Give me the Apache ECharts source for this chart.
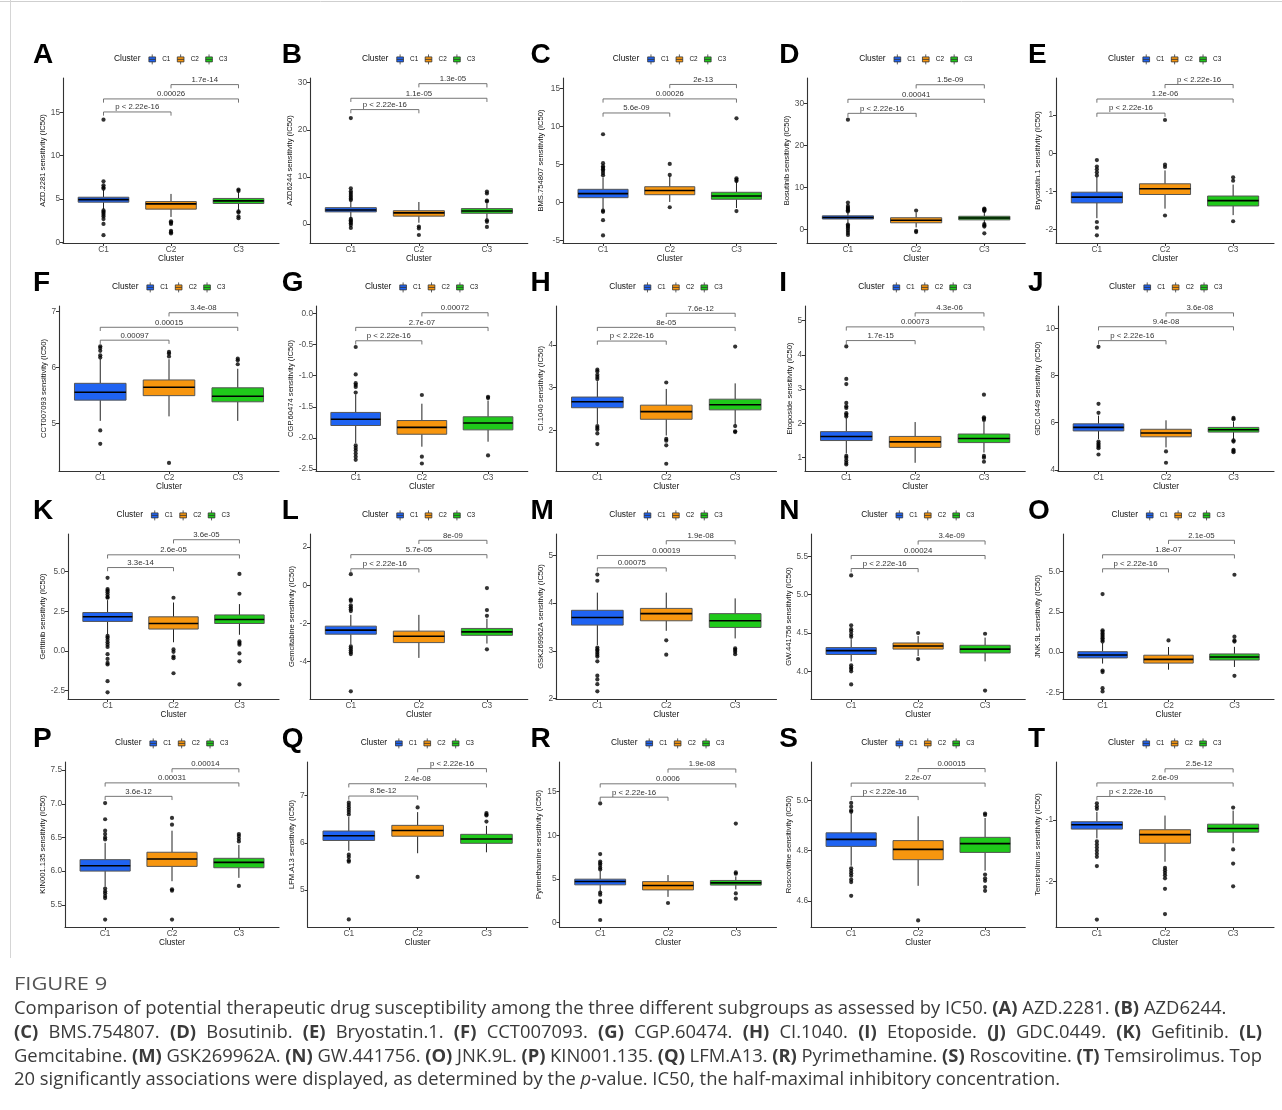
<!DOCTYPE html>
<html><head><meta charset="utf-8">
<script src="https://cdn.jsdelivr.net/npm/echarts@6/dist/echarts.min.js"></script>
<style>html,body{margin:0;padding:0;background:#fff}#c{width:1282px;height:1110px}</style>
</head><body><div id="c"></div>
<script>
// ---------------- data ----------------
const categories = ['C1', 'C2', 'C3'];
const groupColors = ['#1F63F2', '#F7960F', '#1FC91A'];
const letters = ['A','B','C','D','E','F','G','H','I','J','K','L','M','N','O','P','Q','R','S','T'];
const drugs = ['AZD.2281','AZD6244','BMS.754807','Bosutinib','Bryostatin.1','CCT007093','CGP.60474','CI.1040','Etoposide','GDC.0449',
  'Gefitinib','Gemcitabine','GSK269962A','GW.441756','JNK.9L','KIN001.135','LFM.A13','Pyrimethamine','Roscovitine','Temsirolimus'];
const comparisons = [[1, 2], [1, 3], [2, 3]];

// box stats per cluster: [lower whisker, Q1, median, Q3, upper whisker]
const boxA = [[3.85,4.65,4.95,5.22,6.05],[2.95,3.85,4.45,4.72,5.6],[3.7,4.5,4.8,5.08,5.8]];
const outA = [[14.15,7.05,6.6,6.35,6.2,3.7,3.55,3.4,3.2,3.0,2.7,2.15,0.85],[2.45,2.3,2.15,1.35,1.2,1.05],[6.1,5.95,3.6,3.45,3.0,2.8]];
const brkA = [15.04,16.54,18.19]; const pA = ['p < 2.22e-16','0.00026','1.7e-14'];
const tickA = ['0','5','10','15']; const limA = [-0.05,18.95];

const boxB = [[1.3,2.6,3.0,3.5,4.8],[0.3,1.7,2.4,2.85,4.7],[1.0,2.3,2.8,3.3,4.4]];
const outB = [[22.5,7.6,7.0,6.6,6.2,5.8,5.4,5.1,1.1,0.8,0.5,0.2,-0.2,-0.8],[-0.5,-0.9,-2.3],[6.9,6.5,5.0,4.8,0.8,0.5,-0.6]];
const brkB = [24.3,26.7,29.8]; const pB = ['p < 2.22e-16','1.1e-05','1.3e-05'];
const tickB = ['0','10','20','30']; const limB = [-4.0,31.0];

const boxC = [[-0.9,0.66,1.2,1.76,3.3],[0.1,1.05,1.6,2.1,3.5],[-0.7,0.45,0.88,1.37,2.7]];
const outC = [[9.0,5.2,4.8,4.6,4.4,4.2,3.9,3.6,-1.05,-1.2,-2.3,-4.3],[5.1,3.65,-0.6],[11.1,3.2,3.0,2.85,-1.1]];
const brkC = [11.8,13.65,15.55]; const pC = ['5.6e-09','0.00026','2e-13'];
const tickC = ['-5','0','5','10','15']; const limC = [-5.3,16.4];

const boxD = [[1.4,2.5,2.85,3.25,4.1],[0.5,1.6,2.2,2.8,4.0],[1.4,2.3,2.75,3.15,4.2]];
const outD = [[26.1,6.4,5.6,5.2,4.9,4.6,4.3,1.2,0.9,0.6,0.2,-0.3,-0.8,-1.3],[4.5,-0.3,-0.6],[5.0,4.8,4.6,4.4,1.3,1.0,0.7,-0.9]];
const brkD = [27.6,30.95,34.4]; const pD = ['p < 2.22e-16','0.00041','1.5e-09'];
const tickD = ['0','10','20','30']; const limD = [-3.2,36.0];

const boxE = [[-1.7,-1.3,-1.15,-1.02,-0.62],[-1.45,-1.08,-0.93,-0.8,-0.45],[-1.62,-1.38,-1.24,-1.12,-0.82]];
const outE = [[-0.18,-0.35,-0.42,-0.5,-0.58,-1.8,-1.95,-2.15],[0.87,-0.3,-0.36,-1.63],[-0.63,-0.72,-1.78]];
const brkE = [1.05,1.42,1.8]; const pE = ['p < 2.22e-16','1.2e-06','p < 2.22e-16'];
const tickE = ['-2','-1','0','1']; const limE = [-2.35,1.97];

const boxF = [[5.05,5.42,5.56,5.72,6.15],[5.13,5.5,5.65,5.78,6.15],[5.05,5.39,5.49,5.64,5.98]];
const outF = [[6.38,6.35,6.3,6.22,6.18,4.88,4.64],[6.28,6.25,6.2,4.3],[6.16,6.13,6.06]];
const brkF = [6.49,6.72,6.98]; const pF = ['0.00097','0.00015','3.4e-08'];
const tickF = ['5','6','7']; const limF = [4.155,7.10];

const boxG = [[-2.08,-1.8,-1.7,-1.59,-1.3],[-2.14,-1.94,-1.83,-1.72,-1.45],[-2.06,-1.87,-1.76,-1.66,-1.4]];
const outG = [[-0.54,-0.98,-1.12,-1.15,-1.18,-1.27,-2.12,-2.16,-2.2,-2.25,-2.3,-2.35],[-1.31,-2.3,-2.41],[-1.34,-1.36,-2.28]];
const brkG = [-0.44,-0.225,0.01]; const pG = ['p < 2.22e-16','2.7e-07','0.00072'];
const tickG = ['-2.5','-2.0','-1.5','-1.0','-0.5','0.0']; const limG = [-2.53,0.118];

const boxH = [[2.15,2.53,2.67,2.78,3.15],[1.88,2.26,2.44,2.59,2.97],[2.13,2.48,2.6,2.73,3.1]];
const outH = [[3.42,3.38,3.3,3.25,3.2,2.1,2.06,2.02,1.93,1.68],[3.12,1.8,1.76,1.65,1.22],[3.96,2.1,1.98,1.96]];
const brkH = [4.09,4.41,4.74]; const pH = ['p < 2.22e-16','8e-05','7.6e-12'];
const tickH = ['2','3','4']; const limH = [1.05,4.91];

const boxI = [[1.12,1.5,1.62,1.76,2.15],[0.85,1.3,1.46,1.62,2.04],[1.15,1.44,1.56,1.69,2.05]];
const outI = [[4.25,3.3,3.15,2.6,2.5,2.45,2.3,2.25,2.2,1.05,1.0,0.92,0.85,0.8],[],[2.84,2.18,2.14,2.1,1.05,1.0,0.88]];
const brkI = [4.42,4.82,5.23]; const pI = ['1.7e-15','0.00073','4.3e-06'];
const tickI = ['1','2','3','4','5']; const limI = [0.61,5.43];

const boxJ = [[5.3,5.65,5.8,5.95,6.3],[4.95,5.4,5.56,5.72,6.1],[5.3,5.6,5.7,5.8,6.05]];
const outJ = [[9.22,6.8,6.42,5.2,5.12,5.05,4.98,4.92,4.65],[4.78,4.3],[6.2,6.15,5.25,5.2,4.85,4.8,4.75]];
const brkJ = [9.48,10.07,10.66]; const pJ = ['p < 2.22e-16','9.4e-08','3.6e-08'];
const tickJ = ['4','6','8','10']; const limJ = [3.95,10.95];

const boxK = [[1.05,1.86,2.15,2.42,3.2],[0.55,1.38,1.73,2.15,3.05],[1.02,1.73,1.98,2.27,2.95]];
const outK = [[4.6,3.9,3.8,3.7,3.55,3.4,3.35,0.95,0.85,0.7,0.55,0.4,0.25,-0.2,-0.5,-0.75,-0.85,-1.9,-2.6],[3.35,0.1,-0.05,-0.35,-0.45,-1.4],[4.85,3.6,0.6,0.5,0.4,-0.15,-0.65,-2.1]];
const brkK = [5.25,6.05,7.0]; const pK = ['3.3e-14','2.6e-05','3.6e-05'];
const tickK = ['-2.5','0.0','2.5','5.0']; const limK = [-3.02,7.36];

const boxL = [[-3.1,-2.56,-2.35,-2.14,-1.55],[-3.8,-3.0,-2.67,-2.4,-1.55],[-3.05,-2.62,-2.44,-2.26,-1.75]];
const outL = [[0.58,-0.75,-0.82,-1.05,-1.15,-1.25,-1.35,-3.2,-3.3,-3.4,-3.5,-3.6,-5.55],[],[-0.15,-1.3,-1.6,-3.35]];
const brkL = [0.86,1.6,2.35]; const pL = ['p < 2.22e-16','5.7e-05','8e-09'];
const tickL = ['-4','-2','0','2']; const limL = [-5.95,2.68];

const boxM = [[3.12,3.54,3.7,3.85,4.22],[3.42,3.63,3.78,3.89,4.22],[3.26,3.49,3.63,3.78,4.1]];
const outM = [[4.6,4.47,3.07,3.03,3.0,2.96,2.92,2.88,2.78,2.48,2.4,2.3,2.15],[3.22,2.92],[3.05,3.02,2.98,2.93]];
const brkM = [4.74,5.0,5.31]; const pM = ['0.00075','0.00019','1.9e-08'];
const tickM = ['2','3','4','5']; const limM = [1.99,5.45];

const boxN = [[4.13,4.22,4.27,4.31,4.42],[4.2,4.29,4.33,4.37,4.46],[4.13,4.24,4.29,4.34,4.44]];
const outN = [[5.25,4.6,4.55,4.52,4.48,4.45,4.08,4.05,4.03,4.0,3.83],[4.5,4.16],[4.49,3.75]];
const brkN = [5.34,5.51,5.7]; const pN = ['p < 2.22e-16','0.00024','3.4e-09'];
const tickN = ['4.0','4.5','5.0','5.5']; const limN = [3.64,5.79];

const boxO = [[-0.72,-0.37,-0.19,0.02,0.55],[-1.1,-0.69,-0.46,-0.2,0.31],[-0.93,-0.5,-0.31,-0.12,0.32]];
const outO = [[3.6,1.35,1.25,1.15,1.05,0.95,0.85,0.75,0.65,-1.15,-1.25,-2.25,-2.45],[0.72],[4.8,0.95,0.72,0.65,-1.48]];
const brkO = [5.17,6.04,6.94]; const pO = ['p < 2.22e-16','1.8e-07','2.1e-05'];
const tickO = ['-2.5','0.0','2.5','5.0']; const limO = [-2.92,7.33];

const boxP = [[5.77,6.0,6.08,6.17,6.42],[5.85,6.07,6.18,6.28,6.6],[5.9,6.05,6.13,6.19,6.39]];
const outP = [[7.01,6.77,6.6,6.55,6.5,6.47,5.74,5.7,5.67,5.63,5.6,5.28],[6.79,6.69,5.73,5.71,5.28],[6.55,6.52,6.48,6.44,5.78]];
const brkP = [7.11,7.31,7.52]; const pP = ['3.6e-12','0.00031','0.00014'];
const tickP = ['5.5','6.0','6.5','7.0','7.5']; const limP = [5.17,7.62];

const boxQ = [[5.83,6.05,6.15,6.25,6.55],[5.78,6.14,6.26,6.37,6.65],[5.8,5.99,6.08,6.18,6.36]];
const outQ = [[6.85,6.8,6.75,6.7,6.65,6.6,5.75,5.7,5.63,5.6,4.38],[6.75,5.28],[6.63,6.6,6.58,6.45]];
const brkQ = [6.99,7.25,7.57]; const pQ = ['8.5e-12','2.4e-08','p < 2.22e-16'];
const tickQ = ['5','6','7']; const limQ = [4.22,7.71];

const boxR = [[3.55,4.33,4.72,4.98,5.9],[2.95,3.75,4.25,4.7,5.45],[3.8,4.3,4.55,4.83,5.3]];
const outR = [[13.65,7.85,7.0,6.8,6.6,6.3,6.1,3.45,3.2,2.5,2.35,0.3],[2.25],[11.35,5.75,5.6,3.35,2.75]];
const brkR = [14.37,15.9,17.6]; const pR = ['p < 2.22e-16','0.0006','1.9e-08'];
const tickR = ['0','5','10','15']; const limR = [-0.5,18.4];

const boxS = [[4.74,4.817,4.845,4.871,4.95],[4.66,4.764,4.805,4.84,4.937],[4.72,4.793,4.828,4.853,4.93]];
const outS = [[4.99,4.975,4.96,4.955,4.73,4.72,4.71,4.7,4.685,4.675,4.62],[4.522],[4.948,4.942,4.705,4.69,4.68,4.655,4.64]];
const brkS = [5.016,5.069,5.127]; const pS = ['p < 2.22e-16','2.2e-07','0.00015'];
const tickS = ['4.6','4.8','5.0']; const limS = [4.496,5.153];

const boxT = [[-1.3,-1.15,-1.08,-1.03,-0.87],[-1.68,-1.38,-1.24,-1.16,-0.93],[-1.38,-1.2,-1.14,-1.07,-0.85]];
const outT = [[-0.73,-0.78,-0.82,-1.35,-1.4,-1.45,-1.5,-1.55,-1.6,-1.75,-2.62],[-1.78,-1.82,-1.86,-1.9,-1.95,-2.12,-2.53],[-0.8,-1.48,-1.71,-2.08]];
const brkT = [-0.62,-0.40,-0.17]; const pT = ['p < 2.22e-16','2.6e-09','2.5e-12'];
const tickT = ['-2','-1']; const limT = [-2.74,-0.06];

const captionTitle = 'FIGURE 9';
const captionLines = [
  'Comparison of potential therapeutic drug susceptibility among the three different subgroups as assessed by IC50. {b|(A)} AZD.2281. {b|(B)} AZD6244.',
  '{b|(C)} BMS.754807. {b|(D)} Bosutinib. {b|(E)} Bryostatin.1. {b|(F)} CCT007093. {b|(G)} CGP.60474. {b|(H)} CI.1040. {b|(I)} Etoposide. {b|(J)} GDC.0449. {b|(K)} Gefitinib. {b|(L)}',
  'Gemcitabine. {b|(M)} GSK269962A. {b|(N)} GW.441756. {b|(O)} JNK.9L. {b|(P)} KIN001.135. {b|(Q)} LFM.A13. {b|(R)} Pyrimethamine. {b|(S)} Roscovitine. {b|(T)} Temsirolimus. Top',
  '20 significantly associations were displayed, as determined by the {i|p}-value. IC50, the half-maximal inhibitory concentration.'
];

// ---------------- layout (pixels) ----------------
const gridLeft = [63,310,563,807,1056, 59,316,556,805,1058, 68,310,556,811,1063, 65,307.5,559.5,811,1056];
const COLW = 248.75, ROWH = 228;
const FONT = 'Liberation Sans, Arial, sans-serif';
const CAPFONT = 'Open Sans';
const CAPSIZE = 18.4;
const CAPCOLOR = '#3a3a3a';
const capJustify = [null, 1262, 1262, null];

const BOX = [boxA,boxB,boxC,boxD,boxE,boxF,boxG,boxH,boxI,boxJ,boxK,boxL,boxM,boxN,boxO,boxP,boxQ,boxR,boxS,boxT];
const OUT = [outA,outB,outC,outD,outE,outF,outG,outH,outI,outJ,outK,outL,outM,outN,outO,outP,outQ,outR,outS,outT];
const BRK = [brkA,brkB,brkC,brkD,brkE,brkF,brkG,brkH,brkI,brkJ,brkK,brkL,brkM,brkN,brkO,brkP,brkQ,brkR,brkS,brkT];
const PV = [pA,pB,pC,pD,pE,pF,pG,pH,pI,pJ,pK,pL,pM,pN,pO,pP,pQ,pR,pS,pT];
const TICK = [tickA,tickB,tickC,tickD,tickE,tickF,tickG,tickH,tickI,tickJ,tickK,tickL,tickM,tickN,tickO,tickP,tickQ,tickR,tickS,tickT];
const LIM = [limA,limB,limC,limD,limE,limF,limG,limH,limI,limJ,limK,limL,limM,limN,limO,limP,limQ,limR,limS,limT];

function renderBox(params, api) {
  const x = api.value(0);
  const lo = api.coord([x, api.value(1)]);
  const q1 = api.coord([x, api.value(2)]);
  const md = api.coord([x, api.value(3)]);
  const q3 = api.coord([x, api.value(4)]);
  const hi = api.coord([x, api.value(5)]);
  const w = api.size([0.75, 0])[0];
  const cx = md[0], x0 = cx - w / 2;
  return { type: 'group', children: [
    { type: 'line', shape: { x1: cx, y1: lo[1], x2: cx, y2: q1[1] }, style: { stroke: '#222', lineWidth: 1 } },
    { type: 'line', shape: { x1: cx, y1: q3[1], x2: cx, y2: hi[1] }, style: { stroke: '#222', lineWidth: 1 } },
    { type: 'rect', shape: { x: x0, y: q3[1], width: w, height: q1[1] - q3[1] }, style: { fill: api.visual('color'), stroke: '#555', lineWidth: 1 } },
    { type: 'line', shape: { x1: x0, y1: md[1], x2: x0 + w, y2: md[1] }, style: { stroke: '#000', lineWidth: 1.6 } }
  ]};
}
function makeBracket(labels) {
  return function (params, api) {
    const a = api.coord([api.value(0), api.value(2)]);
    const b = api.coord([api.value(1), api.value(2)]);
    const tip = 3.7;
    return { type: 'group', children: [
      { type: 'polyline', shape: { points: [[a[0], a[1] + tip], [a[0], a[1]], [b[0], b[1]], [b[0], b[1] + tip]] },
        style: { stroke: '#666', lineWidth: 0.9, fill: null } },
      { type: 'text', x: (a[0] + b[0]) / 2, y: a[1] - 0.8,
        style: { text: labels[params.dataIndex], fontSize: 7.8, fontFamily: FONT, fill: '#333',
                 align: 'center', textAlign: 'center', verticalAlign: 'bottom', textVerticalAlign: 'bottom' } }
    ]};
  };
}
const boxIcon = 'path://M1,3H9V9H1Z M1,6H9 M5,0V3 M5,9V12';

const option = {
  animation: false,
  backgroundColor: '#fff',
  textStyle: { fontFamily: FONT },
  grid: [], xAxis: [], yAxis: [], series: [], legend: [], graphic: []
};

letters.forEach((L, i) => {
  const r = Math.floor(i / 5), c = i % 5;
  const left = gridLeft[i], right = 279 + COLW * c, top = 78 + ROWH * r, bottom = 243 + ROWH * r;
  const cxPlot = (left + right) / 2;
  const titleX = 43.5 + COLW * c;
  option.grid.push({ left: left, top: top, width: right - left, height: bottom - top });
  option.xAxis.push({
    gridIndex: i, type: 'value', min: 0.4, max: 3.6,
    axisLine: { show: true, onZero: false, lineStyle: { color: '#333', width: 1.1 } },
    axisTick: { show: true, length: 3, customValues: [1, 2, 3], lineStyle: { color: '#333', width: 1 } },
    axisLabel: { customValues: [1, 2, 3], formatter: v => categories[Math.round(v) - 1], fontSize: 8.3, color: '#4d4d4d', margin: 3, fontFamily: FONT },
    splitLine: { show: false },
    name: 'Cluster', nameLocation: 'middle', nameGap: 12,
    nameTextStyle: { fontSize: 8.2, color: '#111', fontFamily: FONT }
  });
  const tk = TICK[i];
  option.yAxis.push({
    gridIndex: i, type: 'value', min: LIM[i][0], max: LIM[i][1],
    axisLine: { show: true, onZero: false, lineStyle: { color: '#333', width: 1.1 } },
    axisTick: { show: true, length: 3, customValues: tk.map(Number), lineStyle: { color: '#333', width: 1 } },
    axisLabel: { customValues: tk.map(Number), formatter: v => { const k = tk.findIndex(s => Math.abs(Number(s) - v) < 1e-9); return k >= 0 ? tk[k] : ''; },
                 fontSize: 8.3, color: '#4d4d4d', margin: 3, fontFamily: FONT },
    splitLine: { show: false },
    name: drugs[i] + ' sensitivity (IC50)', nameLocation: 'middle', nameRotate: 90,
    nameGap: left - titleX - 4,
    nameTextStyle: { fontSize: 7.6, color: '#111', fontFamily: FONT }
  });
  BOX[i].forEach((b, g) => {
    option.series.push({
      type: 'custom', name: categories[g], xAxisIndex: i, yAxisIndex: i,
      itemStyle: { color: groupColors[g] },
      encode: { x: 0, y: [1, 2, 3, 4, 5] },
      data: [[g + 1].concat(b)], renderItem: renderBox, z: 2, silent: true
    });
  });
  const pts = [];
  OUT[i].forEach((arr, g) => arr.forEach(v => pts.push([g + 1, v])));
  option.series.push({ type: 'scatter', name: 'outlier', xAxisIndex: i, yAxisIndex: i, data: pts,
    symbolSize: 4.2, itemStyle: { color: '#000' }, z: 3, silent: true });
  option.series.push({ type: 'custom', name: 'p', xAxisIndex: i, yAxisIndex: i,
    data: comparisons.map((pr, k) => [pr[0], pr[1], BRK[i][k]]), encode: { x: [0, 1], y: 2 },
    renderItem: makeBracket(PV[i]), z: 4, clip: false, silent: true });
  option.legend.push({
    data: categories.map(n => ({ name: n, icon: boxIcon })),
    left: cxPlot - 22.5, top: 59 + ROWH * r - 5, padding: 0,
    itemWidth: 10, itemHeight: 10, itemGap: 6.5, selectedMode: false,
    itemStyle: { borderColor: '#333', borderWidth: 0.8 },
    textStyle: { fontSize: 6.4, color: '#111', fontFamily: FONT }
  });
  option.graphic.push({ type: 'text', x: cxPlot - 57, y: 59 + ROWH * r,
    style: { text: 'Cluster', fontSize: 8.4, fontFamily: FONT, fill: '#111', align: 'left', textAlign: 'left', verticalAlign: 'middle', textVerticalAlign: 'middle' } });
  option.graphic.push({ type: 'text', x: 33 + COLW * c, y: 55.5 + ROWH * r,
    style: { text: L, fontSize: 28, fontWeight: 'bold', fontFamily: FONT, fill: '#000', align: 'left', textAlign: 'left', verticalAlign: 'middle', textVerticalAlign: 'middle' } });
});

// frame lines
option.graphic.push({ type: 'line', shape: { x1: 0, y1: 1.5, x2: 1282, y2: 1.5 }, style: { stroke: '#cfcfcf', lineWidth: 1 } });
option.graphic.push({ type: 'line', shape: { x1: 10.5, y1: 0, x2: 10.5, y2: 958 }, style: { stroke: '#d5d5d5', lineWidth: 1 } });

// caption
option.graphic.push({ type: 'text', x: 14, y: 985, scaleX: 1.26,
  style: { text: captionTitle, fontSize: CAPSIZE - 1, fontFamily: CAPFONT, fill: '#555', align: 'left', textAlign: 'left', verticalAlign: 'middle', textVerticalAlign: 'middle' } });
const capRich = {
  b: { fontSize: CAPSIZE, fontFamily: CAPFONT, fontWeight: 'bold', fill: CAPCOLOR, color: CAPCOLOR },
  i: { fontSize: CAPSIZE, fontFamily: CAPFONT, fontStyle: 'italic', fill: CAPCOLOR, color: CAPCOLOR }
};
const mctx = document.createElement('canvas').getContext('2d');
function measureToken(tok) {
  const re = /\{(\w)\|([^}]*)\}|([^{]+)/g;
  let m, w = 0;
  while ((m = re.exec(tok))) {
    let weight = 'normal', style = 'normal', txt = m[3];
    if (m[1]) { txt = m[2]; if (m[1] === 'b') weight = 'bold'; if (m[1] === 'i') style = 'italic'; }
    mctx.font = style + ' ' + weight + ' ' + CAPSIZE + 'px "' + CAPFONT + '"';
    w += mctx.measureText(txt).width;
  }
  return w;
}
function capText(t, x, y) {
  return { type: 'text', x: x, y: y,
    style: { text: t, rich: capRich, fontSize: CAPSIZE, fontFamily: CAPFONT, fill: CAPCOLOR,
             align: 'left', textAlign: 'left', verticalAlign: 'middle', textVerticalAlign: 'middle' } };
}
captionLines.forEach((t, k) => {
  const y = 1009 + 23.7 * k;
  const target = capJustify[k];
  if (!target) { option.graphic.push(capText(t, 14, y)); return; }
  const toks = t.split(' ');
  const widths = toks.map(measureToken);
  const sum = widths.reduce((a, b) => a + b, 0);
  const gap = (target - 14 - sum) / (toks.length - 1);
  let x = 14;
  toks.forEach((tok, j) => { option.graphic.push(capText(tok, x, y)); x += widths[j] + gap; });
});

const chart = echarts.init(document.getElementById('c'), null, { renderer: 'canvas', width: 1282, height: 1110 });
chart.setOption(option);
</script>
</body></html>
